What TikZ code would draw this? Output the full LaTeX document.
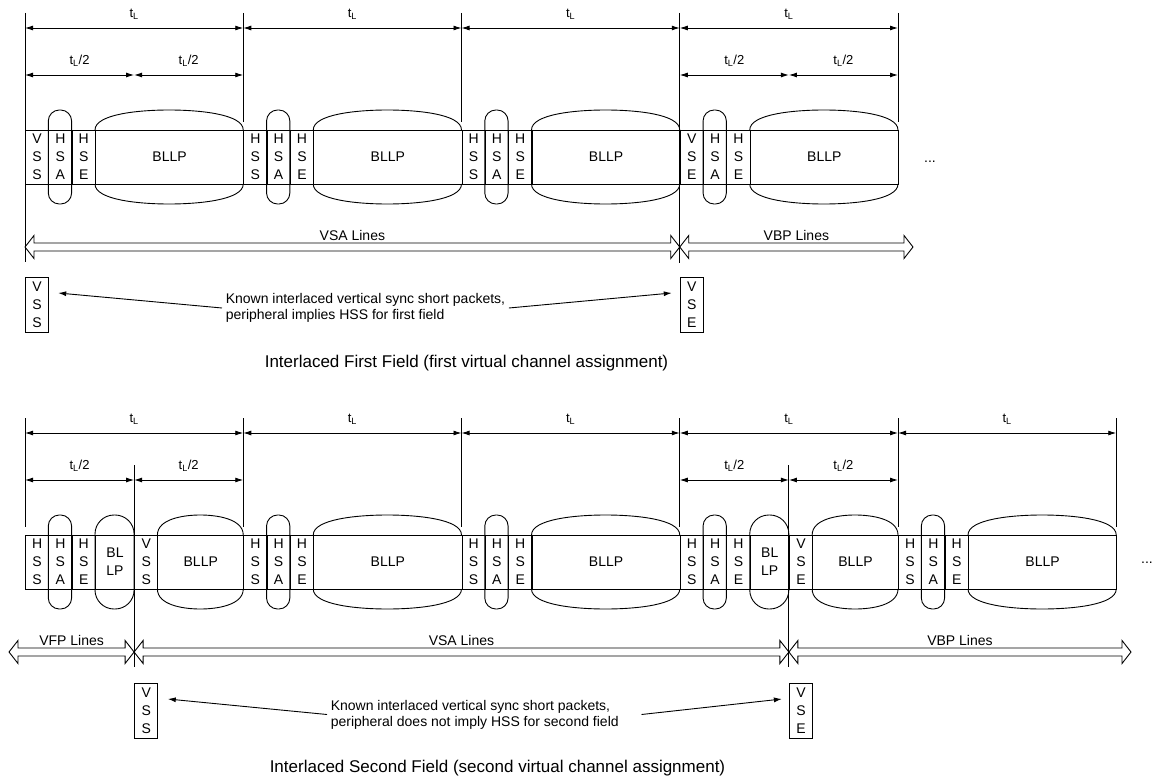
\documentclass[tikz,border=0pt]{standalone}
\usepackage{fontspec}
\setmainfont{Liberation Sans}
\usetikzlibrary{arrows.meta}

\begin{document}
\begin{tikzpicture}[x=1pt, y=-1pt, line width=0.9pt, >={Latex[length=8pt,width=5pt]},
  cell/.style={draw, anchor=west, minimum width=23.3pt, minimum height=54pt,
    inner sep=0pt, align=center, font=\fontsize{14}{18}\selectfont},
  box/.style={cell, anchor=north west, minimum height=55pt},
  oval/.style={rounded corners=11pt},
  blob/.style={rounded corners=19pt},
  lbl/.style={above=8pt, inner sep=0pt, font=\fontsize{13}{14}\selectfont},
  spanlbl/.style={above, inner sep=1.5pt, font=\fontsize{14}{16}\selectfont},
  note/.style={anchor=west, align=left, font=\fontsize{14}{16}\selectfont},
  caption/.style={font=\fontsize{17}{20}\selectfont}]
  \useasboundingbox (0,0) rectangle (1154,781);

  % first field
  \foreach \x/\va/\vb [count=\n] in {25/V/S, 243.25/H/S, 461.5/H/S, 679.75/V/E} {
    \node[cell] (fs\n) at (\x,157) {\va\\S\\\vb};
    \node[cell] (fa\n) at (\x+23.3,157) {H\\S\\A};
    \node[cell] (fe\n) at (\x+46.6,157) {H\\S\\E};
    \node[cell, minimum width=148.25pt] (fb\n) at (\x+70,157) {BLLP};
    \draw[oval] (\x+23.3,110) rectangle (\x+46.6,204);
    \draw (\x+70,130) .. controls (\x+70,114) and (\x+114.5,110) .. (\x+144.1,110)
      .. controls (\x+173.8,110) and (\x+218.25,114) .. (\x+218.25,130);
    \draw (\x+70,184) .. controls (\x+70,200) and (\x+114.5,204) .. (\x+144.1,204)
      .. controls (\x+173.8,204) and (\x+218.25,200) .. (\x+218.25,184);
  }
  \node[font=\fontsize{14}{16}\selectfont] (fdots) at (930,162) {...};

  \foreach \x/\y in {25/262, 243.25/122, 461.5/122, 679.75/263, 898/122}
    \draw (\x,13) -- (\x,\y);
  \foreach \x [count=\n] in {25,243.25,461.5,679.75,898}
    \coordinate (ft\n) at (\x,28);
  \foreach \i/\j in {1/2,2/3,3/4,4/5}
    \draw[<->] (ft\i) -- (ft\j) node[midway,lbl] {t\textsubscript{L}};
  \foreach \x [count=\n] in {25,134.1,243.25,679.75,788.9,898}
    \coordinate (fh\n) at (\x,75);
  \foreach \i/\j in {1/2,2/3,4/5,5/6}
    \draw[<->] (fh\i) -- (fh\j) node[midway,lbl] {t\textsubscript{L}/2};

  \node[box] (fvss) at (25,277) {V\\S\\S};
  \node[box] (fvse) at (679.75,277) {V\\S\\E};
  \node[note] (fnote) at (222,308) {Known interlaced vertical sync short packets,\\peripheral implies HSS for first field};
  \draw[->] (fnote.west) -- ([shift={(9pt,-16pt)}]fvss.north east);
  \draw[->] (fnote.east) -- ([shift={(-8pt,-16pt)}]fvse.north west);
  \node[caption] (fcap) at (466.5,363) {Interlaced First Field (first virtual channel assignment)};

  % second field
  \foreach \x [count=\n] in {243.25,461.5,898} {
    \node[cell] (ss\n) at (\x,562) {H\\S\\S};
    \node[cell] (sa\n) at (\x+23.3,562) {H\\S\\A};
    \node[cell] (se\n) at (\x+46.6,562) {H\\S\\E};
    \node[cell, minimum width=148.25pt] (sb\n) at (\x+70,562) {BLLP};
    \draw[oval] (\x+23.3,515) rectangle (\x+46.6,609);
    \draw (\x+70,535) .. controls (\x+70,519) and (\x+114.5,515) .. (\x+144.1,515)
      .. controls (\x+173.8,515) and (\x+218.25,519) .. (\x+218.25,535);
    \draw (\x+70,589) .. controls (\x+70,605) and (\x+114.5,609) .. (\x+144.1,609)
      .. controls (\x+173.8,609) and (\x+218.25,605) .. (\x+218.25,589);
  }
  \foreach \x/\vb [count=\n] in {25/S, 679.75/E} {
    \node[cell] (hs\n) at (\x,562) {H\\S\\S};
    \node[cell] (ha\n) at (\x+23.3,562) {H\\S\\A};
    \node[cell] (he\n) at (\x+46.6,562) {H\\S\\E};
    \node[cell, minimum width=39.1pt] (hl\n) at (\x+70,562) {BL\\LP};
    \node[cell] (hv\n) at (\x+109.1,562) {V\\S\\\vb};
    \node[cell, minimum width=85.85pt] (hb\n) at (\x+132.4,562) {BLLP};
    \draw[oval] (\x+23.3,515) rectangle (\x+46.6,609);
    \draw[blob] (\x+70,515) rectangle (\x+109.1,609);
    \draw (\x+132.4,535) .. controls (\x+132.4,519) and (\x+158.2,515) .. (\x+175.3,515)
      .. controls (\x+192.4,515) and (\x+218.25,519) .. (\x+218.25,535);
    \draw (\x+132.4,589) .. controls (\x+132.4,605) and (\x+158.2,609) .. (\x+175.3,609)
      .. controls (\x+192.4,609) and (\x+218.25,605) .. (\x+218.25,589);
  }
  \node[font=\fontsize{14}{16}\selectfont] (sdots) at (1147,563) {...};

  \foreach \x in {25,243.25,461.5,679.75,898,1116.25}
    \draw (\x,418) -- (\x,527);
  \foreach \x in {134.1,788.9}
    \draw (\x,465) -- (\x,667);
  \foreach \x [count=\n] in {25,243.25,461.5,679.75,898,1116.25}
    \coordinate (st\n) at (\x,433);
  \foreach \i/\j in {1/2,2/3,3/4,4/5,5/6}
    \draw[<->] (st\i) -- (st\j) node[midway,lbl] {t\textsubscript{L}};
  \foreach \x [count=\n] in {25,134.1,243.25,679.75,788.9,898}
    \coordinate (sh\n) at (\x,480);
  \foreach \i/\j in {1/2,2/3,4/5,5/6}
    \draw[<->] (sh\i) -- (sh\j) node[midway,lbl] {t\textsubscript{L}/2};

  \node[box] (svss) at (134.1,683) {V\\S\\S};
  \node[box] (svse) at (788.9,683) {V\\S\\E};
  \node[note] (snote) at (327,714.5) {Known interlaced vertical sync short packets,\\peripheral does not imply HSS for second field};
  \draw[->] (snote.west) -- ([shift={(9.5pt,-16pt)}]svss.north east);
  \draw[->] ([xshift=19pt]snote.east) -- ([shift={(-7pt,-16pt)}]svse.north west);
  \node[caption] (scap) at (497.5,768) {Interlaced Second Field (second virtual channel assignment)};

  % line spans
  \foreach \a/\b/\y/\t in {25/679.75/247/VSA Lines, 679.75/913/247/VBP Lines,
      9/134.1/652/VFP Lines, 134.1/788.9/652/VSA Lines, 788.9/1131/652/VBP Lines} {
    \draw (\a,\y) -- (\a+9,\y-11.5) -- (\a+9,\y-4) -- (\b-9,\y-4) -- (\b-9,\y-11.5)
      -- (\b,\y) -- (\b-9,\y+11.5) -- (\b-9,\y+4) -- (\a+9,\y+4) -- (\a+9,\y+11.5) -- cycle;
    \node[spanlbl] at ({(\a+\b)/2},\y-4) {\t};
  }
\end{tikzpicture}
\end{document}
